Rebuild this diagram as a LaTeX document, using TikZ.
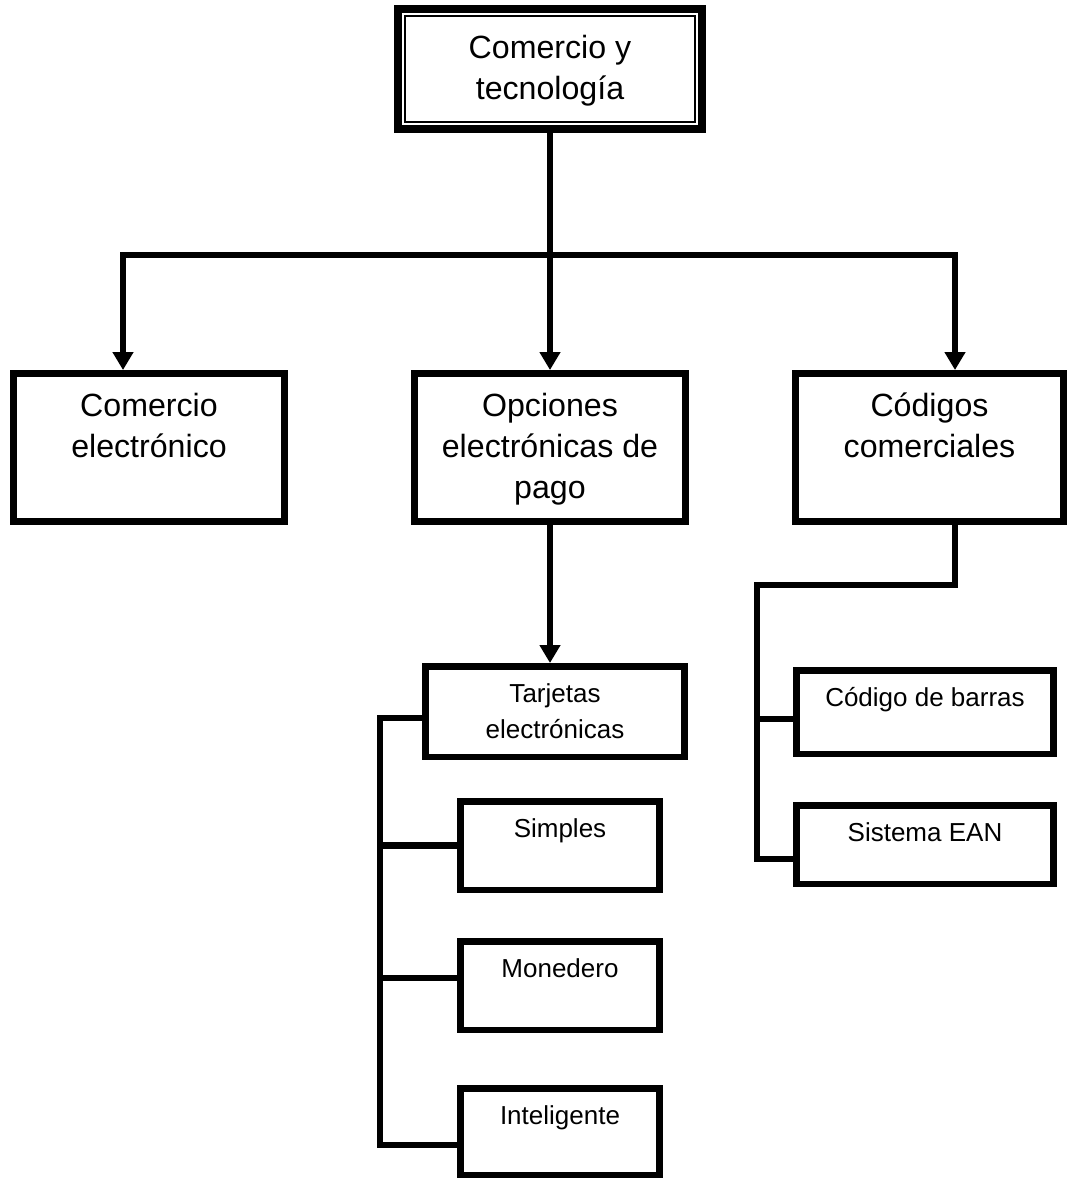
\documentclass[tikz,border=0pt]{standalone}
\usepackage{fontspec}
\setmainfont{Liberation Sans}
\usetikzlibrary{arrows.meta}
\tikzset{
  flow/.style={-{Triangle[width=4mm,length=3.6mm]}, line width=1.3mm},
  link/.style={line width=1.3mm},
  boxtext/.style n args={3}{
    execute at begin node={\begin{minipage}[c][#2][t]{#1}\centering\vspace*{#3}\strut},
    execute at end node={\end{minipage}}
  },
  box/.style={draw, line width=1.3mm, fill=white, inner sep=0pt},
  rootbox/.style={box, line width=1.6mm, font={\fontsize{18.3pt}{23.4pt}\selectfont},
    boxtext={6.1cm}{2.4cm}{11.5pt}},
  mainbox/.style={box, font={\fontsize{18.3pt}{23.4pt}\selectfont},
    boxtext={#1}{2.97cm}{8pt}},
  leafbox/.style 2 args={box, font={\fontsize{14.8pt}{20.2pt}\selectfont},
    boxtext={#1}{#2}{6.7pt}}
}
\begin{document}
\begin{tikzpicture}[x=0.02cm, y=-0.02cm, line join=miter]
  \useasboundingbox (0,0) rectangle (1067,1178);
  % root
  \node[rootbox] (root) at (550,69) {Comercio y\\tecnología};
  \draw[line width=0.4mm] ([shift={(0.22cm,-0.22cm)}]root.north west)
    rectangle ([shift={(-0.22cm,0.22cm)}]root.south east);

  % second level
  \node[mainbox=5.43cm] (ecom) at (149,447.5) {Comercio\\electrónico};
  \node[mainbox=5.43cm] (pago) at (550,447.5) {Opciones\\electrónicas de\\pago};
  \node[mainbox=5.37cm] (codes) at (929.5,447.5) {Códigos\\comerciales};
  \coordinate (busL) at (123,255);
  \coordinate (busR) at (955,255);
  \draw[flow] (root.south) -- (pago.north);
  \draw[flow] (root.south |- busL) -- (busL) -- (busL |- ecom.north);
  \draw[flow] (root.south |- busR) -- (busR) -- (busR |- codes.north);

  % cards
  \node[leafbox={5.19cm}{1.81cm}] (cards) at (555,711.5) {Tarjetas\\electrónicas};
  \node[leafbox={3.99cm}{1.77cm}] (simple) at (560,845.5) {Simples};
  \node[leafbox={3.99cm}{1.77cm}] (purse) at (560,985.5) {Monedero};
  \node[leafbox={3.99cm}{1.73cm}] (smart) at (560,1131.5) {Inteligente};
  \draw[flow] (pago.south) -- (pago.south |- cards.north);
  \coordinate (cardsTop) at (380,718);
  \coordinate (cardsBot) at (380,1145);
  \coordinate (purseJ) at (380,978);
  \draw[link] (cardsTop -| cards.west) -- (cardsTop) -- (cardsBot) -- (cardsBot -| smart.west);
  \draw[link] (cardsTop |- simple.west) -- (simple.west);
  \draw[link] (purseJ) -- (purseJ -| purse.west);

  % codes
  \node[leafbox={5.15cm}{1.67cm}] (bars) at (925,712) {Código de barras};
  \node[leafbox={5.15cm}{1.57cm}] (ean) at (925,844.5) {Sistema EAN};
  \coordinate (codesJ) at (955,585);
  \coordinate (codesL) at (757,585);
  \coordinate (codesB) at (757,859);
  \coordinate (barsJ) at (757,719);
  \draw[link] (codesJ |- codes.south) -- (codesJ) -- (codesL) -- (codesB) -- (codesB -| ean.west);
  \draw[link] (barsJ) -- (barsJ -| bars.west);
\end{tikzpicture}
\end{document}
